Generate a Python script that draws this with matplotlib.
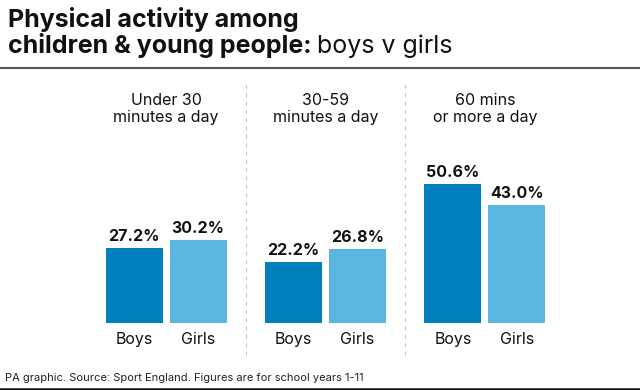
import matplotlib
matplotlib.use("Agg")
from matplotlib import pyplot as plt
from matplotlib.lines import Line2D

# chart data
categories = ["Under 30\nminutes a day", "30-59\nminutes a day", "60 mins\nor more a day"]
boys = [27.2, 22.2, 50.6]
girls = [30.2, 26.8, 43.0]
series_names = ["Boys", "Girls"]

BOYS_COL = "#0080bd"
GIRLS_COL = "#5ab6e0"
FONT = "Inter"

W, H = 640, 390
fig = plt.figure(figsize=(W / 100, H / 100), dpi=100)
fig.patch.set_facecolor("white")


def fy(py):
    # pixel row from top -> figure fraction
    return (H - py) / H


# axes: baseline at pixel row 323, 2.75 px per percent
base_px = 323
top_px = 70
px_per = 2.75
ax = fig.add_axes([0, fy(base_px), 1, (base_px - top_px) / H])
ax.set_xlim(-1.043, 2.974)
ax.set_ylim(0, (base_px - top_px) / px_per)
ax.axis("off")

bw = 0.358
off = 0.2
xs = list(range(len(categories)))
ax.bar([x - off for x in xs], boys, width=bw, color=BOYS_COL)
ax.bar([x + off for x in xs], girls, width=bw, color=GIRLS_COL)

for x, b, g in zip(xs, boys, girls):
    ax.annotate(f"{b:.1f}%", (x - off, b), xytext=(0, 3), textcoords="offset points",
                ha="center", va="bottom", fontsize=11.5, fontweight="bold", family=FONT,
                color="#111111")
    ax.annotate(f"{g:.1f}%", (x + off, g), xytext=(0, 3), textcoords="offset points",
                ha="center", va="bottom", fontsize=11.5, fontweight="bold", family=FONT,
                color="#111111")
    ax.annotate(series_names[0], (x - off, 0), xytext=(0, -12), textcoords="offset points",
                ha="center", va="center", fontsize=11.5, family=FONT, color="#111111")
    ax.annotate(series_names[1], (x + off, 0), xytext=(0, -12), textcoords="offset points",
                ha="center", va="center", fontsize=11.5, family=FONT, color="#111111")

for x, cat in zip(xs, categories):
    ax.text(x, (base_px - 93) / px_per, cat, ha="center", va="top", fontsize=11.5,
            family=FONT, color="#111111", linespacing=1.15)

# dashed separators between groups
for sx in [0.5, 1.5]:
    ax.plot([sx, sx], [(base_px - 355) / px_per, (base_px - 83) / px_per],
            color="#b3cad9", lw=0.8, ls=(0, (3.5, 4)), clip_on=False)

# title
t1 = fig.text(8 / W, fy(27), "Physical activity among", ha="left", va="baseline",
              fontsize=18, fontweight="bold", family=FONT, color="#111111")
t2 = fig.text(8 / W, fy(53), "children & young people:", ha="left", va="baseline",
              fontsize=18, fontweight="bold", family=FONT, color="#111111")
fig.canvas.draw()
bb = t2.get_window_extent()
fig.text(bb.x1 / W + 5 / W, fy(53), "boys v girls", ha="left", va="baseline",
         fontsize=18, family=FONT, color="#111111")

# rules
fig.add_artist(Line2D([0, 1], [fy(67.7), fy(67.7)], color="#555555", lw=1.5))
fig.add_artist(Line2D([0, 1], [fy(388.5), fy(388.5)], color="#111111", lw=1.8))

fig.text(5 / W, fy(381), "PA graphic. Source: Sport England. Figures are for school years 1-11",
         ha="left", va="baseline", fontsize=8, family=FONT, color="#222222")

fig.savefig("out.png", dpi=100)
